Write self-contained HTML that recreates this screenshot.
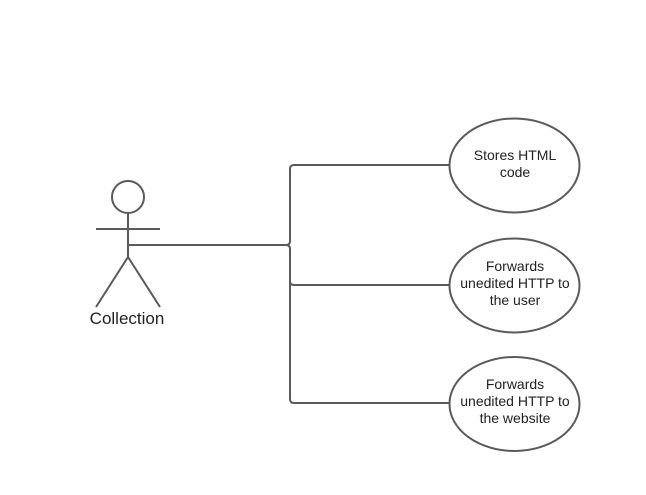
<!DOCTYPE html>
<html><head><style>body{margin:0;background:#fff}</style></head><body>
<svg width="646" height="490" xmlns="http://www.w3.org/2000/svg" font-family="Liberation Sans, sans-serif">
<g stroke="#5a5a5a" stroke-width="2" fill="none">
<circle cx="128" cy="197" r="16"/>
<line x1="96" y1="229" x2="160" y2="229"/>
<line x1="128" y1="213" x2="128" y2="257"/>
<line x1="128" y1="257" x2="96" y2="307"/>
<line x1="128" y1="257" x2="160" y2="307"/>
<path d="M128 245 H286 Q290 245 290 241 V169 Q290 165 294 165 H449"/>
<path d="M286 245 Q290 245 290 249 V281 Q290 285 294 285 H449"/>
<path d="M290 281 V399 Q290 403 294 403 H449"/>
<ellipse cx="514.5" cy="165.5" rx="65" ry="47"/>
<ellipse cx="514.5" cy="285.5" rx="65" ry="47"/>
<ellipse cx="514.5" cy="404" rx="65" ry="47"/>
</g>
<g fill="#222" font-size="14" text-anchor="middle">
<text x="127" y="324" font-size="17">Collection</text>
<text x="515" y="160">Stores HTML</text>
<text x="515" y="177">code</text>
<text x="515" y="271">Forwards</text>
<text x="515" y="288">unedited HTTP to</text>
<text x="515" y="305">the user</text>
<text x="515" y="389">Forwards</text>
<text x="515" y="406">unedited HTTP to</text>
<text x="515" y="423">the website</text>
</g>
</svg>
</body></html>
